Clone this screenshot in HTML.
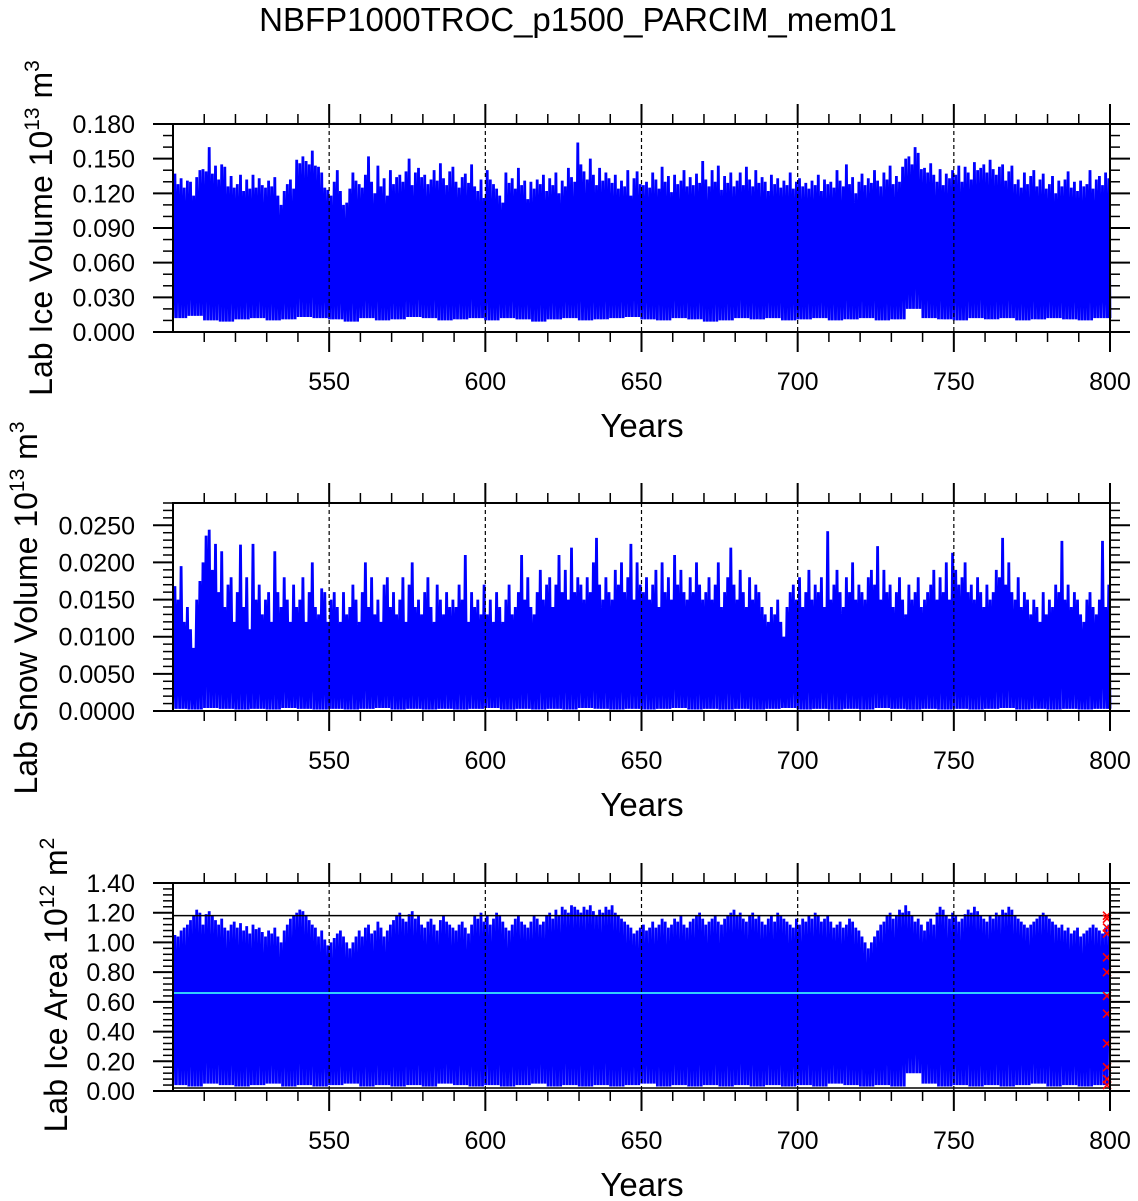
<!DOCTYPE html>
<html><head><meta charset="utf-8"><style>
body{margin:0;background:#fff}
svg{display:block;font-family:"Liberation Sans",sans-serif}
</style></head><body>
<svg id="c" width="1138" height="1201" viewBox="0 0 1138 1201">
<text x="578" y="31" font-size="33" text-anchor="middle">NBFP1000TROC_p1500_PARCIM_mem01</text>
</svg>
<script>
// Panel 1: Lab ice volume yearly max (x0.001) and 5-year min (x0.001)
const iceVolMax=[137,128,133,125,131,130,118,134,140,141,139,160,137,144,132,145,143,126,135,125,128,136,122,132,124,136,125,133,127,125,131,126,134,118,110,122,128,132,124,149,146,152,148,145,157,144,143,138,125,123,118,130,140,122,110,112,124,138,131,128,125,136,152,130,120,144,126,133,118,140,128,134,136,130,139,150,127,138,142,134,136,128,132,140,131,146,133,127,139,143,130,125,134,137,129,145,126,122,132,116,140,132,128,124,118,112,138,129,133,124,142,127,131,115,130,124,132,128,136,122,133,127,138,120,131,126,142,134,130,164,145,139,132,150,136,127,142,131,138,133,129,136,124,131,126,140,118,133,139,128,127,130,125,138,132,124,143,130,135,121,136,128,131,140,126,134,127,137,129,148,132,126,140,130,144,123,135,129,138,126,131,138,127,143,132,126,140,129,134,130,122,136,128,133,125,131,127,138,124,130,133,126,129,124,131,127,136,122,132,128,130,125,140,131,126,145,128,134,120,130,137,127,133,129,140,131,126,138,132,144,128,135,130,143,150,152,145,160,155,141,142,138,146,136,130,141,127,137,133,140,136,144,130,143,138,132,147,140,142,145,138,149,141,136,143,145,131,139,144,128,132,125,138,128,135,140,126,132,137,124,128,135,120,131,126,132,139,125,130,122,131,126,128,140,124,132,135,127,138,133];
const iceVolMin=[12,14,10,9,11,12,10,11,13,12,11,9,12,10,11,13,12,10,11,12,10,12,11,9,11,12,10,11,12,13,11,10,12,11,9,10,12,11,12,10,11,12,10,11,12,10,11,20,12,11,10,12,11,12,10,11,12,11,10,12];
// Panel 2: Lab snow volume yearly max (x0.0001), 5-year min (x0.0001)
const snowMax=[168,150,195,120,140,110,85,150,175,200,236,244,190,225,160,215,140,170,180,120,160,224,140,180,110,225,150,170,130,150,160,120,215,160,140,180,150,120,170,140,150,180,120,160,200,140,130,165,160,120,150,160,140,120,160,130,140,170,150,120,160,200,140,180,130,150,120,170,180,140,160,130,150,180,120,170,200,140,150,130,160,180,140,120,170,150,130,160,140,150,140,170,150,210,120,160,140,150,130,170,130,150,120,160,140,120,150,170,130,140,160,210,150,180,140,130,160,190,150,170,180,140,170,210,160,190,150,220,160,180,170,150,180,160,200,233,170,150,180,160,150,190,170,200,160,180,225,150,200,170,160,180,150,170,190,140,200,160,180,150,210,170,190,160,150,180,160,200,170,150,160,180,150,170,200,140,160,180,220,170,150,190,160,140,180,150,170,160,140,130,120,140,130,150,120,100,140,160,170,150,180,140,160,190,150,170,160,180,140,242,150,170,190,160,140,180,160,200,150,170,160,150,180,190,170,222,150,190,160,170,140,160,180,150,130,170,150,160,180,140,150,160,170,190,150,180,160,200,150,213,190,170,180,200,160,170,150,180,160,140,170,150,160,190,180,233,170,200,160,150,180,140,160,150,130,150,140,120,160,130,150,140,170,160,229,150,170,140,160,150,130,120,150,160,140,130,150,229,140,170];
const snowMin=[3,2,4,3,2,3,2,4,3,2,3,2,3,4,2,3,2,3,2,3,4,2,3,2,3,2,4,3,2,3,2,3,4,2,3,2,3,2,3,4,2,3,2,3,2,4,3,2,3,2,3,2,3,4,2,3,2,3,2,3];
// Panel 3: Lab ice area yearly max (x0.01), 5-year min (x0.01)
const areaMax=[105,104,108,110,112,115,118,122,120,112,119,121,118,115,112,116,110,108,112,114,110,113,108,111,106,112,109,110,107,104,108,106,110,104,100,108,112,116,118,120,122,121,118,115,112,110,104,108,102,98,100,103,106,108,104,100,96,100,104,108,104,110,112,106,108,114,110,104,108,112,115,118,120,116,114,119,121,116,118,112,110,114,116,112,108,115,118,114,112,110,108,112,114,110,106,112,118,116,120,114,118,112,116,120,118,114,110,108,112,116,118,114,112,110,114,118,116,112,114,118,120,116,122,118,124,122,120,125,124,122,120,124,122,125,121,118,122,120,124,122,125,120,118,116,114,112,110,106,108,110,112,108,110,114,110,112,116,114,110,112,116,114,118,112,110,114,116,118,120,116,112,114,116,118,114,112,116,118,120,122,118,120,116,114,118,120,116,118,114,112,116,118,114,120,118,116,114,112,110,116,112,116,114,118,116,120,118,114,116,118,114,110,112,114,110,112,116,114,110,108,104,100,96,100,104,108,112,114,118,120,116,118,122,120,125,121,118,114,116,112,108,114,116,112,120,124,122,118,116,120,118,114,116,119,122,120,124,121,118,116,114,118,116,120,118,122,120,124,122,118,116,114,112,110,112,114,116,118,120,118,116,114,112,110,112,108,110,106,108,110,104,106,108,110,112,110,108,106,110,112,114,110,112];
const areaMin=[4,3,5,4,3,4,5,3,4,3,4,5,3,4,3,4,3,5,4,3,4,3,4,5,3,4,3,4,3,4,5,3,4,3,4,3,4,3,4,3,4,3,5,4,3,4,3,12,5,3,4,3,4,3,4,5,3,4,3,4];
const areaClim=[118,116,110,106,90,80,64,52,32,16,8,4];
const xTicks=[550,600,650,700,750,800];
const p1Ticks=["0.000","0.030","0.060","0.090","0.120","0.150","0.180"];
const p2Ticks=["0.0000","0.0050","0.0100","0.0150","0.0200","0.0250"];
const p3Ticks=["0.00","0.20","0.40","0.60","0.80","1.00","1.20","1.40"];

const svg=document.getElementById('c');
const NS='http://www.w3.org/2000/svg';
const X0=173,X1=1110,YR0=500,YR1=800;
const xs=v=>X0+(v-YR0)/(YR1-YR0)*(X1-X0);
function mk(tag,attrs,parent){const e=document.createElementNS(NS,tag);for(const k in attrs)e.setAttribute(k,attrs[k]);(parent||svg).appendChild(e);return e;}

function panel(o){
  const g=mk('g',{});
  
  
  const ys=v=>o.bot-(v/o.ymax)*(o.bot-o.top);
  let d='';
  const n=o.max.length;
  for(let i=0;i<n;i++){
    const mn=o.min[Math.floor(i/5)]*o.scale, mx=o.max[i]*o.scale;
    d+=(i?'L':'M')+xs(YR0+i+0.1).toFixed(1)+' '+ys(mn).toFixed(1)+'L'+xs(YR0+i+0.6).toFixed(1)+' '+ys(mx).toFixed(1);
  }
  d+='L'+xs(YR1).toFixed(1)+' '+ys(o.min[o.min.length-1]*o.scale).toFixed(1);
  const s=mk('path',{d:d,fill:'none',stroke:'#0000ff','stroke-width':2.8,'stroke-linejoin':'miter','stroke-miterlimit':2},g);
  
  
  if(o.extra)o.extra(g,ys);
  xTicks.forEach(t=>{if(t<YR1){const l=mk('line',{x1:xs(t),x2:xs(t),y1:o.top,y2:o.bot,stroke:'#000','stroke-width':1.2,'stroke-dasharray':'4,3'},g);
    
    }});
  const f=mk('rect',{x:X0,y:o.top,width:X1-X0,height:o.bot-o.top,fill:'none',stroke:'#000','stroke-width':2},g);
  
  
  for(let t=510;t<=800;t+=10){
    const maj=t%50===0,L=maj?20:10;
    mk('line',{x1:xs(t),x2:xs(t),y1:o.top-L,y2:o.top,stroke:'#000','stroke-width':maj?2:1.5},g);
    mk('line',{x1:xs(t),x2:xs(t),y1:o.bot,y2:o.bot+L,stroke:'#000','stroke-width':maj?2:1.5},g);
  }
  xTicks.forEach(t=>{const tx=mk('text',{x:xs(t),y:o.bot+58,'font-size':25,'text-anchor':'middle'},g);tx.textContent=t;
    
    });
  const xt=mk('text',{x:642,y:o.bot+105,'font-size':33,'text-anchor':'middle'},g);xt.textContent='Years';
  
  
  const nMin=Math.round(o.ymax/o.minor);
  for(let k=0;k<=nMin;k++){
    const v=k*o.minor, y=ys(v), maj=(k%o.per===0), L=maj?20:10;
    mk('line',{x1:X0-L,x2:X0,y1:y,y2:y,stroke:'#000','stroke-width':maj?2:1.5},g);
    mk('line',{x1:X1,x2:X1+L,y1:y,y2:y,stroke:'#000','stroke-width':maj?2:1.5},g);
  }
  o.ticks.forEach((t,k)=>{const tx=mk('text',{x:135,y:ys(k*o.major)+9,'font-size':25,'text-anchor':'end'},g);tx.textContent=t;
    
    });
  const yt=mk('text',{transform:`translate(${o.tx},${o.cy}) rotate(-90)`,'font-size':32,'text-anchor':'middle'},g);
  yt.innerHTML=o.label+' 10<tspan dy="-13" font-size="21">'+o.exp+'</tspan><tspan dy="13"> m</tspan><tspan dy="-13" font-size="21">'+o.pw+'</tspan>';
  
  
}

panel({name:'ice-volume-panel',top:124,bot:332,ymax:0.18,scale:0.001,max:iceVolMax,min:iceVolMin,major:0.03,minor:0.01,per:3,ticks:p1Ticks,label:'Lab Ice Volume',exp:'13',pw:'3',tx:52,cy:228});
panel({name:'snow-volume-panel',top:503,bot:711,ymax:0.028,scale:0.0001,max:snowMax,min:snowMin,major:0.005,minor:0.001,per:5,ticks:p2Ticks,label:'Lab Snow Volume',exp:'13',pw:'3',tx:37,cy:608});
panel({name:'ice-area-panel',top:883,bot:1091,ymax:1.4,scale:0.01,max:areaMax,min:areaMin,major:0.2,minor:0.04,per:5,ticks:p3Ticks,label:'Lab Ice Area',exp:'12',pw:'2',tx:67,cy:985,
  extra:(g,ys)=>{
    [1.18,0.02].forEach(v=>{const l=mk('line',{x1:X0,x2:X1,y1:ys(v),y2:ys(v),stroke:'#000','stroke-width':1.5},g);
      
      });
    const c=mk('line',{x1:X0,x2:X1,y1:ys(0.66),y2:ys(0.66),stroke:'#33ccff','stroke-width':2},g);
    
    
    areaClim.forEach(v=>{const y=ys(v*0.01),x=1107;
      const m=mk('path',{d:`M${x-4} ${y-4}L${x+4} ${y+4}M${x-4} ${y+4}L${x+4} ${y-4}`,stroke:'#ff0000','stroke-width':1.6},g);
      
      });
  }});
</script>
</body></html>
